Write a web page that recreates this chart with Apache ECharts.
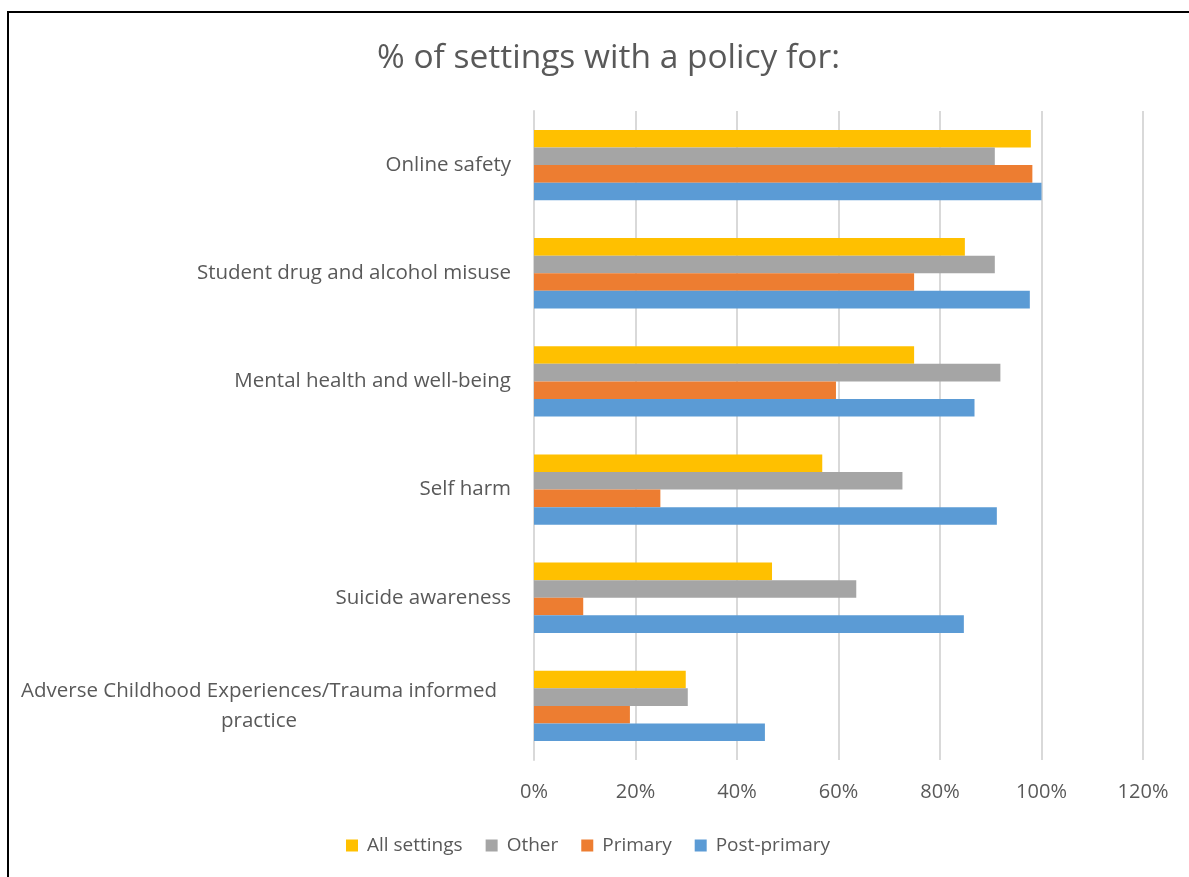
<!DOCTYPE html>
<html>
<head>
<meta charset="utf-8">
<script src="https://cdn.jsdelivr.net/npm/echarts@6/dist/echarts.min.js"></script>
<style>
html,body{margin:0;padding:0;background:#fff;}
#chart{width:1189px;height:877px;}
</style>
</head>
<body>
<div id="chart"></div>
<script>
// Categories listed bottom-to-top (ECharts category y-axis starts at bottom)
const categories = [
  'Adverse Childhood Experiences/Trauma informed practice',
  'Suicide awareness',
  'Self harm',
  'Mental health and well-being',
  'Student drug and alcohol misuse',
  'Online safety'
];
const allSettings = [29.9, 46.9, 56.8, 74.9, 84.9, 97.9];
const other       = [30.3, 63.5, 72.6, 91.9, 90.8, 90.8];
const primary     = [18.9,  9.7, 24.9, 59.5, 74.9, 98.2];
const postPrimary = [45.5, 84.7, 91.2, 86.8, 97.7, 100.0];
const xTicks = [0, 20, 40, 60, 80, 100, 120];

const FONT = '"Open Sans", "Noto Sans", sans-serif';
const TXT = '#595959';

const chart = echarts.init(document.getElementById('chart'), null, {renderer: 'canvas'});

const longLabel = categories[0];
function labelFmt(v) {
  if (v === longLabel) {
    return '{c|Adverse Childhood Experiences/Trauma informed}\n{c|practice}';
  }
  return v;
}

const option = {
  backgroundColor: '#fff',
  animation: false,
  graphic: [{
    type: 'rect',
    shape: {x: 8, y: 12, width: 1300, height: 1000},
    style: {fill: 'none', stroke: '#000', lineWidth: 2},
    silent: true
  }],
  title: {
    text: '% of settings with a policy for:',
    left: 372,
    top: 36,
    textStyle: {fontFamily: FONT, fontSize: 33.5, fontWeight: 'normal', color: TXT}
  },
  legend: {
    data: ['All settings', 'Other', 'Primary', 'Post-primary'],
    bottom: 17,
    left: 341,
    icon: 'rect',
    itemWidth: 12,
    itemHeight: 12,
    itemGap: 23,
    textStyle: {fontFamily: FONT, fontSize: 19, color: TXT, padding: [0, 0, 0, 4]}
  },
  grid: {left: 534, right: 46, top: 111, bottom: 117, containLabel: false},
  xAxis: {
    type: 'value',
    min: 0,
    max: 120,
    interval: 20,
    axisLine: {show: false},
    axisTick: {show: false},
    splitLine: {lineStyle: {color: '#D9D9D9', width: 2}},
    axisLabel: {
      margin: 22,
      fontFamily: FONT, fontSize: 20, color: TXT,
      formatter: function (v) { return xTicks.indexOf(v) >= 0 ? v + '%' : ''; }
    }
  },
  yAxis: {
    type: 'category',
    data: categories,
    axisLine: {show: true, lineStyle: {color: '#D9D9D9', width: 2}},
    axisTick: {show: false},
    axisLabel: {
      margin: 23,
      fontFamily: FONT, fontSize: 20.5, color: TXT,
      lineHeight: 30,
      formatter: labelFmt,
      rich: {
        c: {fontFamily: FONT, fontSize: 20.5, color: TXT, width: 504, align: 'center', lineHeight: 30}
      }
    }
  },
  series: [
    {name: 'All settings', type: 'bar', data: allSettings, itemStyle: {color: '#FFC000'}, barGap: '0%', barCategoryGap: '35%'},
    {name: 'Other', type: 'bar', data: other, itemStyle: {color: '#A5A5A5'}, barGap: '0%', barCategoryGap: '35%'},
    {name: 'Primary', type: 'bar', data: primary, itemStyle: {color: '#ED7D31'}, barGap: '0%', barCategoryGap: '35%'},
    {name: 'Post-primary', type: 'bar', data: postPrimary, itemStyle: {color: '#5B9BD5'}, barGap: '0%', barCategoryGap: '35%'}
  ]
};
chart.setOption(option);
</script>
</body>
</html>
